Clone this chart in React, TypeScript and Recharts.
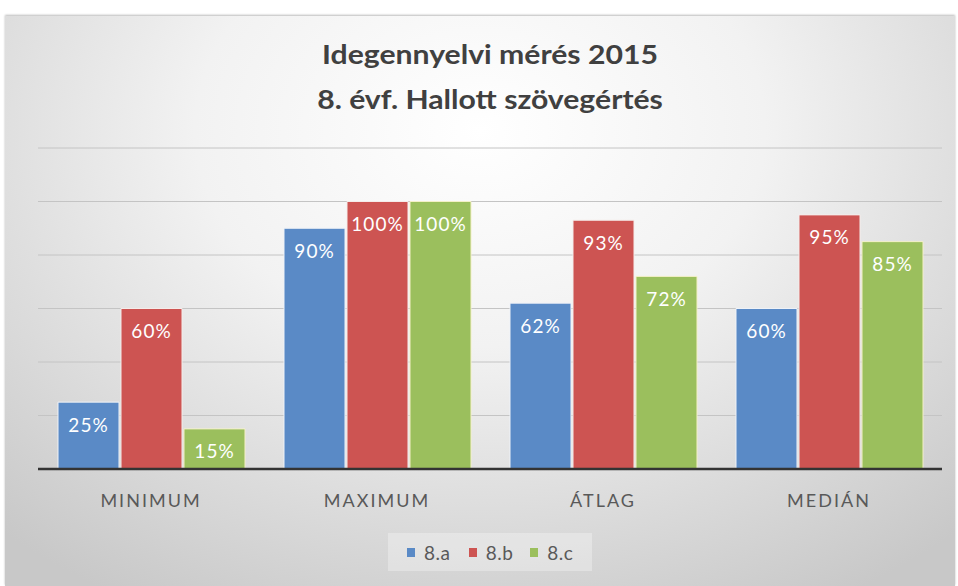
import { Bar, BarChart, CartesianGrid, LabelList, Legend, XAxis, YAxis } from 'recharts'

const categories = ['MINIMUM', 'MAXIMUM', 'ÁTLAG', 'MEDIÁN']
const classA = [25, 90, 62, 60]
const classB = [60, 100, 93, 95]
const classC = [15, 100, 72, 85]
const yTicks = [0, 20, 40, 60, 80, 100, 120]

const data = categories.map((name, i) => ({
  name,
  a: classA[i],
  b: classB[i],
  c: classC[i]
}))

const font = 'Lato, "Open Sans", sans-serif'

const LegendBox = (props: any) => {
  const { payload = [] } = props
  return (
    <div
      style={{
        display: 'flex',
        alignItems: 'center',
        height: 38,
        paddingLeft: 19,
        background: 'rgba(255,255,255,0.3)',
        fontFamily: font,
        fontSize: 19,
        letterSpacing: 0.5,
        color: '#595959'
      }}
    >
      {payload.map((p: any) => (
        <div key={p.value} style={{ display: 'flex', alignItems: 'center', width: 65 }}>
          <span style={{ display: 'inline-block', width: 8, height: 9, background: p.color, marginRight: 9 }} />
          <span>{p.value}</span>
        </div>
      ))}
    </div>
  )
}

const App = () => {
  return (
    <div style={{ position: 'absolute', left: 0, top: 0, width: 958, height: 586, background: '#fff' }}>
      <div
        style={{
          position: 'absolute',
          left: 5,
          top: 16,
          width: 950,
          height: 570,
          background: 'radial-gradient(ellipse 75% 95% at 50% 20%, #ffffff 0%, #f2f2f2 40%, #d6d6d6 80%, #c8c8c8 100%)',
          boxShadow: '0 -1px 2px #bbb'
        }}
      >
        <div
          style={{
            position: 'absolute',
            left: 0,
            top: 16,
            width: 970,
            textAlign: 'center',
            fontFamily: font,
            fontWeight: 700,
            fontSize: 26,
            lineHeight: '45px',
            color: '#404040',
            transform: 'scaleX(1.16)',
            transformOrigin: '485px 0'
          }}
        >
          <div>Idegennyelvi mérés 2015</div>
          <div>8. évf. Hallott szövegértés</div>
        </div>
        <BarChart
          width={950}
          height={570}
          data={data}
          margin={{ top: 132, right: 13, left: 33, bottom: 67 }}
          barSize={61}
          barGap={2}
          style={{ position: 'absolute', left: 0, top: 0 }}
        >
          <CartesianGrid stroke="#c4c4c4" vertical={false} />
          <YAxis hide domain={[0, 120]} ticks={yTicks} />
          <XAxis
            dataKey="name"
            height={50}
            axisLine={{ stroke: '#333', strokeWidth: 2.5 }}
            tickLine={false}
            tickMargin={19}
            tick={{ fill: '#595959', fontSize: 18, fontFamily: font, letterSpacing: 2 }}
          />
          <Legend
            verticalAlign="middle"
            align="center"
            width={204}
            wrapperStyle={{ top: 517, left: 383, height: 38 }}
            content={<LegendBox />}
          />
          <Bar dataKey="a" name="8.a" fill="#5a8ac6" stroke="#eef2f8" strokeWidth={1} isAnimationActive={false}>
            <LabelList dataKey="a" position="insideTop" offset={16} formatter={(v: number) => `${v}%`} fill="#fff" fontSize={19} letterSpacing={1} fontFamily={font} />
          </Bar>
          <Bar dataKey="b" name="8.b" fill="#cd5452" stroke="#f5ecea" strokeWidth={1} isAnimationActive={false}>
            <LabelList dataKey="b" position="insideTop" offset={16} formatter={(v: number) => `${v}%`} fill="#fff" fontSize={19} letterSpacing={1} fontFamily={font} />
          </Bar>
          <Bar dataKey="c" name="8.c" fill="#9bbf5d" stroke="#f4f0c8" strokeWidth={1} isAnimationActive={false}>
            <LabelList dataKey="c" position="insideTop" offset={16} formatter={(v: number) => `${v}%`} fill="#fff" fontSize={19} letterSpacing={1} fontFamily={font} />
          </Bar>
        </BarChart>
      </div>
    </div>
  )
}

export default App
